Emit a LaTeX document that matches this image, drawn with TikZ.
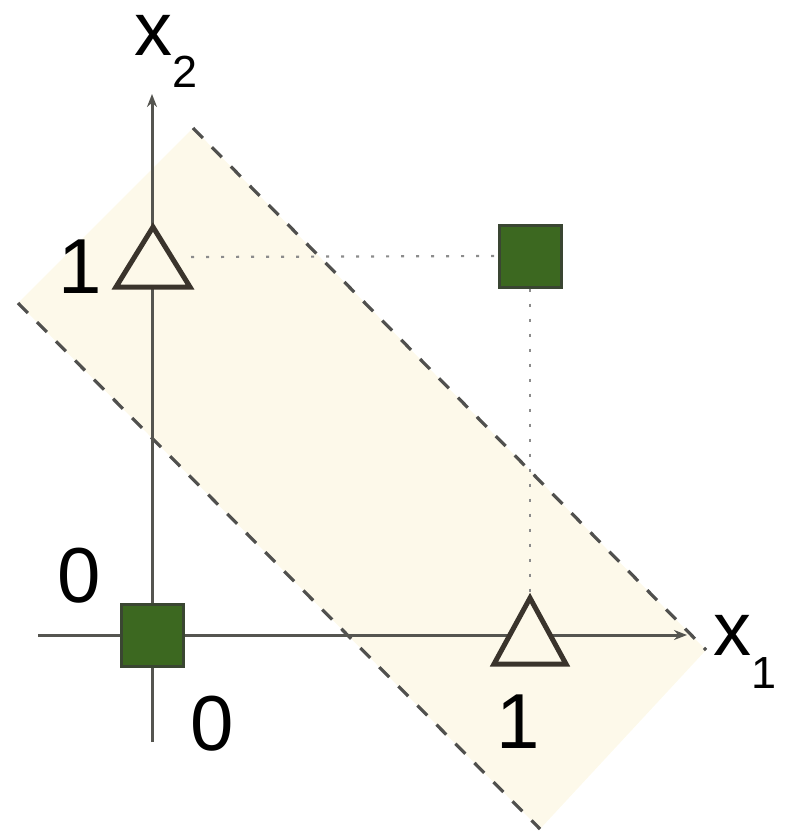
\documentclass[tikz,border=0pt]{standalone}
\usepackage{fontspec}
\setmainfont{Liberation Sans}
\usetikzlibrary{arrows.meta}
\definecolor{bandcol}{RGB}{253,249,234}
\definecolor{axiscol}{RGB}{85,85,80}
\definecolor{dashcol}{RGB}{80,80,78}
\definecolor{dotcol}{RGB}{140,140,140}
\definecolor{sqfill}{RGB}{60,104,32}
\definecolor{sqdraw}{RGB}{58,70,50}
\definecolor{tricol}{RGB}{58,52,44}
\tikzset{
  axisline/.style={draw=axiscol, line width=3pt, -{Stealth[length=13pt,width=10pt]}},
  margin/.style={draw=dashcol, line width=3.2pt, dash pattern=on 14pt off 13pt},
  guide/.style={draw=dotcol, line width=2.2pt, dash pattern=on 3pt off 12pt},
  sqpt/.style={rectangle, draw=sqdraw, fill=sqfill, line width=3pt, minimum size=62pt, inner sep=0pt},
  tripath/.style={draw=tricol, fill=bandcol, line width=5pt, line join=miter},
  lab/.style={font=\fontsize{78}{80}\selectfont, inner sep=0pt, anchor=base},
  axlab/.style={font=\fontsize{76}{80}\selectfont, inner sep=0pt, anchor=base west},
}
\begin{document}
\begin{tikzpicture}[x=1pt,y=-1pt]
\useasboundingbox (0,0) rectangle (785,840);
% band
\coordinate (b1) at (193,128);
\coordinate (b2) at (706,650);
\coordinate (b3) at (540,829);
\coordinate (b4) at (18,303);
\fill[bandcol] (b1) -- (b2) -- (b3) -- (b4) -- cycle;
% margins
\draw[margin] (b1) -- (b2);
\draw[margin] (b4) -- (b3);
% axes
\coordinate (xs) at (38,635);
\coordinate (xe) at (687,635);
\coordinate (ys) at (152,742);
\coordinate (ye) at (152,94);
\draw[axisline] (xs) -- (xe);
\draw[axisline] (ys) -- (ye);
% points
\node[sqpt] (s00) at (152,635) {};
\node[sqpt] (s11) at (530,256) {};
\coordinate (t01) at (153,257);
\coordinate (t10) at (530,631);
% guides
\draw[guide] ([xshift=38pt]t01) -- (s11.west);
\draw[guide] (s11.south) -- ([yshift=33pt]t10);
% triangles
\draw[tripath] ([yshift=30pt]t01) -- ([xshift=37pt,yshift=-30pt]t01) -- ([xshift=-37pt,yshift=-30pt]t01) -- cycle;
\draw[tripath] ([yshift=33pt]t10) -- ([xshift=36pt,yshift=-33pt]t10) -- ([xshift=-36pt,yshift=-33pt]t10) -- cycle;
% labels
\node[lab] (l1y) at (80,293) {1};
\node[lab] (l0y) at (79,602) {0};
\node[lab] (l0x) at (212,750) {0};
\node[lab] (l1x) at (518,748) {1};
\node[axlab] (x2) at (134,56) {x\raisebox{-32pt}{\fontsize{45}{46}\selectfont 2}};
\node[axlab] (x1) at (713,655) {x\raisebox{-33pt}{\fontsize{45}{46}\selectfont 1}};
\end{tikzpicture}
\end{document}
